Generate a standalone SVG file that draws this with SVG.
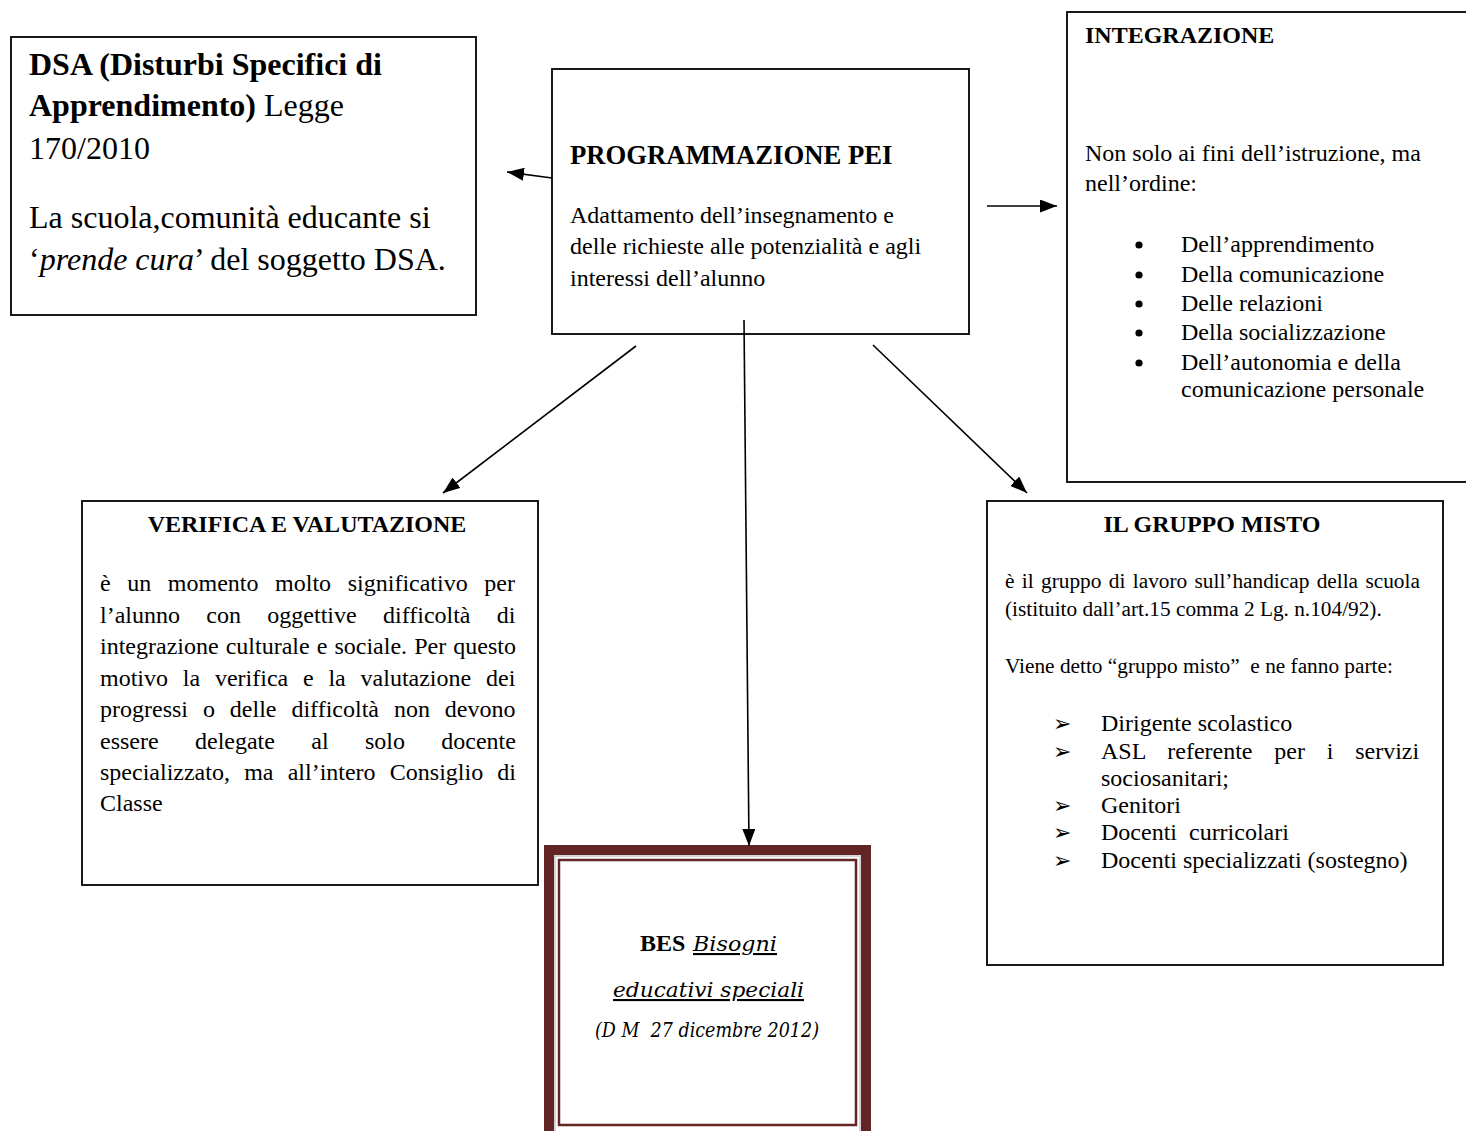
<svg xmlns="http://www.w3.org/2000/svg" width="1466" height="1131" viewBox="0 0 1466 1131">
<style>
  .box { fill: #ffffff; stroke: #000000; stroke-width: 1.8; }
  .t { font-family: "Liberation Serif", "Times New Roman", serif; fill: #000000; font-variant-ligatures: none; }
  .b { font-weight: bold; }
  .i { font-style: italic; }
  .s32 { font-size: 32px; }
  .s27 { font-size: 26.7px; }
  .s24 { font-size: 24px; }
  .s21 { font-size: 21.3px; }
  .dot { fill: #000000; }
  .conn { stroke: #000000; stroke-width: 1.6; fill: none; }
  .bes { font-family: "DejaVu Serif", "Liberation Serif", serif; font-style: italic; font-size: 21px; fill: #000000; }
  .dng { font-family: "DejaVu Sans", sans-serif; font-size: 22px; fill: #000000; }
</style>
<defs>
  <marker id="arrow" viewBox="0 0 17 13" refX="17" refY="6.5" markerWidth="17" markerHeight="13" markerUnits="userSpaceOnUse" orient="auto">
    <path d="M0,0 L17,6.5 L0,13 Z" fill="#000000"/>
  </marker>
</defs>
<rect x="0" y="0" width="1466" height="1131" fill="#ffffff"/>

<g id="dsa">
  <rect class="box" x="11" y="37" width="465" height="278"/>
  <text class="t s32" x="29" y="75"><tspan class="b">DSA (Disturbi Specifici di</tspan></text>
  <text class="t s32" x="29" y="116"><tspan class="b">Apprendimento)</tspan> Legge</text>
  <text class="t s32" x="29" y="159">170/2010</text>
  <text class="t s32" x="29" y="228">La scuola,comunità educante si</text>
  <text class="t s32" x="29" y="270">‘<tspan class="i">prende cura</tspan>’ del soggetto DSA.</text>
</g>

<g id="pei">
  <rect class="box" x="552" y="69" width="417" height="265"/>
  <text class="t b s27" x="570" y="164">PROGRAMMAZIONE PEI</text>
  <text class="t s24" x="570" y="223">Adattamento dell’insegnamento e</text>
  <text class="t s24" x="570" y="254">delle richieste alle potenzialità e agli</text>
  <text class="t s24" x="570" y="286">interessi dell’alunno</text>
</g>

<g id="integrazione">
  <rect class="box" x="1067" y="12" width="400" height="470"/>
  <text class="t b s24" x="1085" y="43">INTEGRAZIONE</text>
  <text class="t s24" x="1085" y="161">Non solo ai fini dell’istruzione, ma</text>
  <text class="t s24" x="1085" y="191">nell’ordine:</text>
  <circle class="dot" cx="1139" cy="245" r="3.6"/>
  <text class="t s24" x="1181" y="252">Dell’apprendimento</text>
  <circle class="dot" cx="1139" cy="275" r="3.6"/>
  <text class="t s24" x="1181" y="282">Della comunicazione</text>
  <circle class="dot" cx="1139" cy="304" r="3.6"/>
  <text class="t s24" x="1181" y="311">Delle relazioni</text>
  <circle class="dot" cx="1139" cy="333" r="3.6"/>
  <text class="t s24" x="1181" y="340">Della socializzazione</text>
  <circle class="dot" cx="1139" cy="363" r="3.6"/>
  <text class="t s24" x="1181" y="370">Dell’autonomia e della</text>
  <text class="t s24" x="1181" y="397">comunicazione personale</text>
</g>

<g id="verifica">
  <rect class="box" x="82" y="501" width="456" height="384"/>
  <text class="t b s24" x="307" y="532" text-anchor="middle">VERIFICA E VALUTAZIONE</text>
  <text class="t s24" x="100" y="591" word-spacing="10.6">è un momento molto significativo per</text>
  <text class="t s24" x="100" y="622.5" word-spacing="20.35">l’alunno con oggettive difficoltà di</text>
  <text class="t s24" x="100" y="654" word-spacing="1.08">integrazione culturale e sociale. Per questo</text>
  <text class="t s24" x="100" y="685.5" word-spacing="8.8">motivo la verifica e la valutazione dei</text>
  <text class="t s24" x="100" y="717" word-spacing="8.94">progressi o delle difficoltà non devono</text>
  <text class="t s24" x="100" y="748.5" word-spacing="30.35">essere delegate al solo docente</text>
  <text class="t s24" x="100" y="780" word-spacing="8.2">specializzato, ma all’intero Consiglio di</text>
  <text class="t s24" x="100" y="811">Classe</text>
</g>

<g id="gruppo-misto">
  <rect class="box" x="987" y="501" width="456" height="464"/>
  <text class="t b s24" x="1212" y="532" text-anchor="middle">IL GRUPPO MISTO</text>
  <text class="t s21" x="1005" y="588" word-spacing="2.07">è il gruppo di lavoro sull’handicap della scuola</text>
  <text class="t s21" x="1005" y="616">(istituito dall’art.15 comma 2 Lg. n.104/92).</text>
  <text class="t s21" x="1005" y="673" xml:space="preserve">Viene detto “gruppo misto”  e ne fanno parte:</text>
  <text class="dng" x="1053" y="731">➢</text>
  <text class="t s24" x="1101" y="731">Dirigente scolastico</text>
  <text class="dng" x="1053" y="759">➢</text>
  <text class="t s24" x="1101" y="759" word-spacing="15.8">ASL referente per i servizi</text>
  <text class="t s24" x="1101" y="786">sociosanitari;</text>
  <text class="dng" x="1053" y="813">➢</text>
  <text class="t s24" x="1101" y="813">Genitori</text>
  <text class="dng" x="1053" y="840">➢</text>
  <text class="t s24" x="1101" y="840" xml:space="preserve">Docenti  curricolari</text>
  <text class="dng" x="1053" y="868">➢</text>
  <text class="t s24" x="1101" y="868">Docenti specializzati (sostegno)</text>
</g>

<g id="bes">
  <rect x="549" y="850" width="317" height="290" fill="#ffffff" stroke="#632523" stroke-width="10"/>
  <rect x="555" y="856" width="305" height="278" fill="none" stroke="#c8c8c8" stroke-width="1.5"/>
  <rect x="559" y="860" width="297" height="265" fill="none" stroke="#632523" stroke-width="2.5"/>
  <text class="t b s24" x="640" y="951">BES</text>
  <text class="bes" x="693" y="951" textLength="84" lengthAdjust="spacingAndGlyphs" text-decoration="underline">Bisogni</text>
  <text class="bes" x="613" y="997" textLength="191" lengthAdjust="spacingAndGlyphs" text-decoration="underline">educativi speciali</text>
  <text class="bes" x="595" y="1037" textLength="224" lengthAdjust="spacingAndGlyphs" xml:space="preserve">(D M  27 dicembre 2012)</text>
</g>

<g id="connectors">
  <line class="conn" x1="552" y1="178" x2="507" y2="172" marker-end="url(#arrow)"/>
  <line class="conn" x1="987" y1="206" x2="1057" y2="206" marker-end="url(#arrow)"/>
  <line class="conn" x1="636" y1="346" x2="443" y2="493" marker-end="url(#arrow)"/>
  <line class="conn" x1="873" y1="345" x2="1027" y2="493" marker-end="url(#arrow)"/>
  <line class="conn" x1="744" y1="320" x2="749" y2="846" marker-end="url(#arrow)"/>
</g>
</svg>
